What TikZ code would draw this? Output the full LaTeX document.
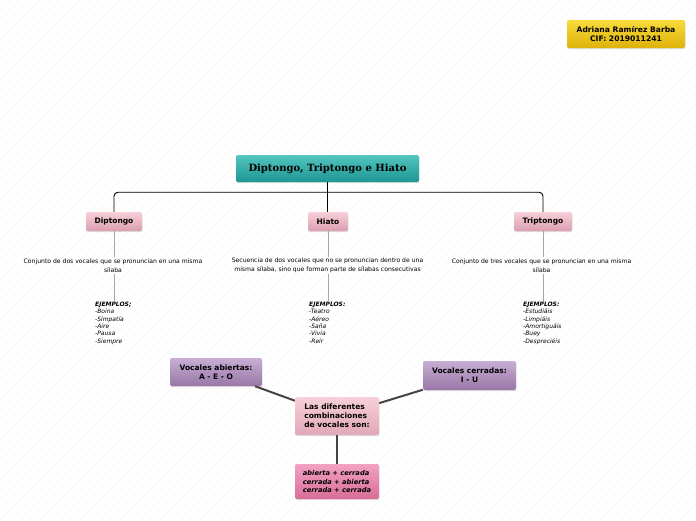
\documentclass[tikz,border=0pt]{standalone}
\usepackage{fontspec}
\setmainfont{DejaVu Sans}
\newfontfamily\titlefont{DejaVu Serif}
\usetikzlibrary{shadows}

\definecolor{yellowtop}{HTML}{F8DB3A}
\definecolor{yellowbot}{HTML}{DDB20A}
\definecolor{tealtop}{HTML}{52C6C0}
\definecolor{tealbot}{HTML}{1E9693}
\definecolor{pinktop}{HTML}{F7D0D9}
\definecolor{pinkbot}{HTML}{DB9EB0}
\definecolor{lilactop}{HTML}{C8AED4}
\definecolor{lilacbot}{HTML}{9877A6}
\definecolor{rosetop}{HTML}{F2A2C2}
\definecolor{rosebot}{HTML}{D86D98}
\definecolor{linkgray}{HTML}{444444}

\begin{document}
\begin{tikzpicture}[x=1pt,y=-1pt,
		box/.style={rounded corners=2pt,align=center,inner sep=2pt,
			drop shadow={shadow xshift=0.4pt,shadow yshift=-1.2pt,opacity=0.25}},
		author node/.style={box,top color=yellowtop,bottom color=yellowbot,
			minimum width=118pt,minimum height=28pt,font=\fontsize{7.6}{9}\selectfont\bfseries},
		title node/.style={box,top color=tealtop,bottom color=tealbot,
			minimum width=183pt,minimum height=27pt,font=\titlefont\fontsize{10}{12}\selectfont\bfseries},
		main node/.style={box,top color=pinktop,bottom color=pinkbot,
			minimum height=19pt,font=\fontsize{7.5}{9}\selectfont\bfseries},
		vowel node/.style={box,top color=lilactop,bottom color=lilacbot,
			minimum height=28pt,font=\fontsize{7.5}{9}\selectfont\bfseries},
		desc node/.style={inner sep=1pt,align=center,font=\fontsize{6.1}{9}\selectfont},
		ex node/.style={inner sep=0pt,align=left,anchor=north west,font=\fontsize{6}{7.3}\selectfont\itshape},
		tree/.style={draw=black,line width=0.9pt},
		thin link/.style={draw=gray!70,line width=0.8pt},
		thick link/.style={draw=linkgray,line width=2pt},
		bg line/.style={draw=gray!6,line width=0.5pt}]

		\useasboundingbox (0,0) rectangle (696,520);
		\fill[white] (0,0) rectangle (696,520);
		\begin{scope}
			\clip (0,0) rectangle (696,520);
			\foreach \i in {-530,-520,...,700}
			\draw[bg line] (\i,520) -- (\i+520,0);
		\end{scope}

		% autor
		\node[author node] (autor) at (626,34) {Adriana Ramírez Barba\\CIF: 2019011241};

		% tema principal
		\node[title node] (title) at (327.5,168.5) {Diptongo, Triptongo e Hiato};

		\node[main node, minimum width=56pt] (dip) at (114,221.5) {Diptongo};
		\node[main node, minimum width=40pt] (hia) at (328,221.5) {Hiato};
		\node[main node, minimum width=58pt] (tri) at (543,221.5) {Triptongo};

		\coordinate (bar) at ([yshift=-10pt]title.south);
		\draw[tree, rounded corners=4pt] (dip.north) |- (bar) -| (tri.north);
		\draw[tree] (title.south) -- (title.south |- hia.north);

		% definiciones
		\node[desc node] (desdip) at (113,265.5) {Conjunto de dos vocales que se pronuncian en una misma\\sílaba};
		\node[desc node] (deshia) at (327.5,265.5) {Secuencia de dos vocales que no se pronuncian dentro de una\\misma sílaba, sino que forman parte de sílabas consecutivas};
		\node[desc node] (destri) at (541.5,265.5) {Conjunto de tres vocales que se pronuncian en una misma\\sílaba};

		% ejemplos
		\node[ex node] (ejdip) at (95,302) {\textbf{EJEMPLOS;}\\-Boina\\-Simpatía\\-Aire\\-Pausa\\-Siempre};
		\node[ex node] (ejhia) at (309,302) {\textbf{EJEMPLOS:}\\-Teatro\\-Aéreo\\-Saña\\-Vivía\\-Reír};
		\node[ex node] (ejtri) at (523,302) {\textbf{EJEMPLOS:}\\-Estudiáis\\-Limpiáis\\-Amortiguáis\\-Buey\\-Despreciéis};

		\path[thin link]
		(dip.south) edge (dip.south |- desdip.north)
		(hia.south) edge (hia.south |- deshia.north)
		(tri.south) edge (tri.south |- destri.north)
		(dip.south |- desdip.south) edge (dip.south |- ejdip.north)
		(hia.south |- deshia.south) edge (hia.south |- ejhia.north)
		(tri.south |- destri.south) edge (tri.south |- ejtri.north);

		% combinaciones
		\node[vowel node, minimum width=92pt] (abi) at (216,372) {Vocales abiertas:\\A - E - O};
		\node[vowel node, minimum width=93pt, minimum height=29pt] (cer) at (469.5,375.5) {Vocales cerradas:\\I - U};
		\node[box, top color=pinktop, bottom color=pinkbot!80!pinktop, minimum width=84pt, minimum height=38pt,
			align=left, font=\fontsize{7.5}{9}\selectfont\bfseries] (comb) at (337,416) {Las diferentes\\combinaciones\\de vocales son:};
		\node[box, top color=rosetop, bottom color=rosebot, minimum width=84pt, minimum height=35pt,
			align=left, font=\fontsize{6.7}{8.2}\selectfont\bfseries\itshape] (tipos) at (337,481.5) {abierta + cerrada\\cerrada + abierta\\cerrada + cerrada};

		\draw[thick link] (abi) -- (comb);
		\draw[thick link] (cer) -- (comb);
		\draw[draw=linkgray, line width=1.2pt] (comb) -- (tipos);
\end{tikzpicture}
\end{document}
